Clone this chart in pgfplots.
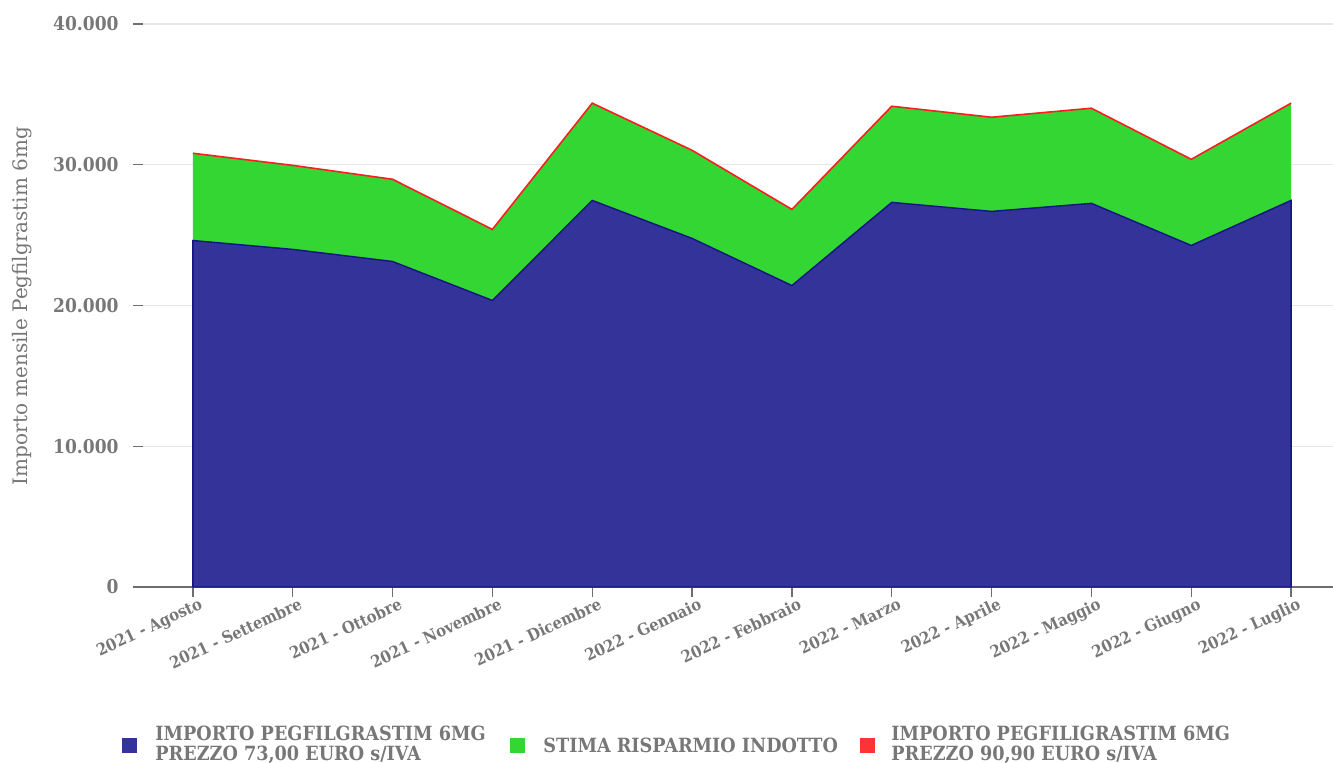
\documentclass[border=0pt]{standalone}
\usepackage{fontspec}
\setmainfont{DejaVu Serif Condensed}
\newfontfamily\widefont{DejaVu Serif}
\usepackage{pgfplots}
\pgfplotsset{compat=1.18}
\definecolor{tx}{RGB}{119,119,119}
\definecolor{axgray}{RGB}{110,110,110}
\definecolor{gridc}{RGB}{230,230,230}
\definecolor{bl}{RGB}{51,51,153}
\definecolor{bledge}{RGB}{20,20,130}
\definecolor{gr}{RGB}{51,214,51}
\definecolor{rd}{RGB}{250,30,30}
\definecolor{rdl}{RGB}{255,51,51}
\begin{document}
\begin{tikzpicture}
\useasboundingbox (-71.5pt,-88pt) rectangle (595pt,293.5pt);
\begin{axis}[
  scale only axis, width=595pt, height=288.5pt,
  anchor=south west, at={(0pt,0pt)},
  xmin=-0.5, xmax=11.42, ymin=0, ymax=41000,
  axis x line*=bottom, axis y line*=left,
  x axis line style={draw=axgray, line width=0.8pt, -},
  y axis line style={draw=none},
  xtick={0,...,11},
  xticklabels={2021 - Agosto,2021 - Settembre,2021 - Ottobre,2021 - Novembre,2021 - Dicembre,2022 - Gennaio,2022 - Febbraio,2022 - Marzo,2022 - Aprile,2022 - Maggio,2022 - Giugno,2022 - Luglio},
  ytick={0,10000,20000,30000,40000},
  scaled y ticks=false,
  /pgf/number format/1000 sep={.},
  /pgf/number format/assume math mode=true,
  ymajorgrids, grid style={draw=gridc, line width=0.6pt},
  tick align=outside, major tick length=5pt,
  tick style={draw=axgray, line width=0.6pt},
  y tick label style={font=\bfseries\fontsize{9.5}{11}\selectfont, text=tx, inner sep=0pt, xshift=-7pt},
  x tick label style={font=\bfseries\fontsize{8.2}{10}\selectfont, text=tx, rotate=25, anchor=north east, inner sep=0pt, yshift=-1pt, xshift=2.5pt},
  ylabel={Importo mensile Pegfilgrastim 6mg},
  ylabel style={at={(axis description cs:0,0.487)}, anchor=center, yshift=60.5pt, font=\widefont\fontsize{10}{11}\selectfont, text=tx},
  clip=false,
]
\addplot[fill=gr, draw=none, forget plot] coordinates {
(0,30820) (1,29960) (2,28970) (3,25410) (4,34380) (5,31030) (6,26830) (7,34160) (8,33380) (9,34020) (10,30390) (11,34380)
} \closedcycle;
\addplot[fill=bl, draw=bledge, line width=0.7pt, forget plot] coordinates {
(0,24620) (1,23990) (2,23130) (3,20360) (4,27470) (5,24770) (6,21420) (7,27330) (8,26690) (9,27260) (10,24270) (11,27470)
} \closedcycle;
\addplot[draw=rd, line width=0.8pt, forget plot] coordinates {
(0,30820) (1,29960) (2,28970) (3,25410) (4,34380) (5,31030) (6,26830) (7,34160) (8,33380) (9,34020) (10,30390) (11,34380)
};
\end{axis}
\begin{scope}[every node/.style={anchor=west, align=left, inner sep=0pt, text=tx, font=\bfseries\fontsize{9.8}{10}\selectfont}]
\fill[bl] (-10.5pt,-83pt) rectangle (-3pt,-75.5pt);
\node at (6pt,-79pt) {IMPORTO PEGFILGRASTIM 6MG\\PREZZO 73,00 EURO s/IVA};
\fill[gr] (183.5pt,-83pt) rectangle (191pt,-75.5pt);
\node at (200pt,-79pt) {STIMA RISPARMIO INDOTTO};
\fill[rdl] (358.5pt,-83pt) rectangle (366pt,-75.5pt);
\node at (374pt,-79pt) {IMPORTO PEGFILIGRASTIM 6MG\\PREZZO 90,90 EURO s/IVA};
\end{scope}
\end{tikzpicture}
\end{document}
